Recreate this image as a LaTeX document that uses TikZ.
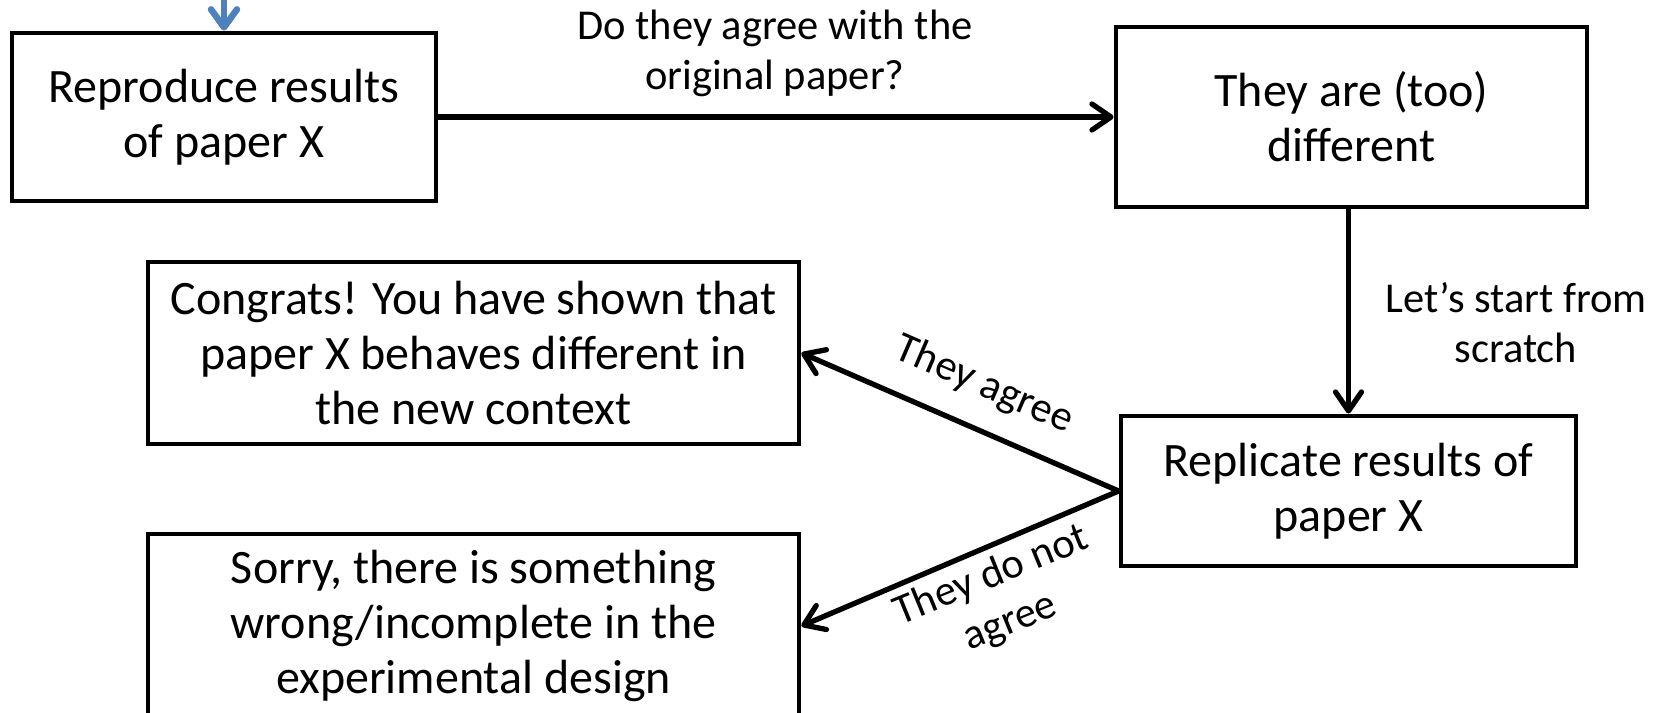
\documentclass[tikz,border=0pt]{standalone}
\usepackage{fontspec}
\setmainfont{Carlito}
\usetikzlibrary{arrows.meta}
\definecolor{flowblue}{HTML}{4F81BD}
\begin{document}
\begin{tikzpicture}[x=1pt,y=-1pt,
  box/.style={draw, line width=4.8pt, rectangle, align=center, inner sep=0pt,
    font=\fontsize{48}{55}\selectfont},
  lbl/.style={align=center, inner sep=0pt, font=\fontsize{42.5}{50}\selectfont},
  link/.style={line width=5.3pt, line cap=round,
    -{Straight Barb[length=19pt,width=26pt,line width=5.3pt,round]}},
  feed/.style={line width=6.5pt, draw=flowblue,
    -{Straight Barb[length=18pt,width=26pt,line width=6.5pt,round]}}]
\useasboundingbox (0,0) rectangle (1662,712);
\clip (0,0) rectangle (1662,712);

% process boxes
\node[box, minimum width=424pt, minimum height=168pt] (repro) at (224,117)
  {Reproduce results\\of paper X};
\node[box, minimum width=471pt, minimum height=180pt] (diff) at (1351.5,117)
  {They are (too)\\different};
\node[box, minimum width=651pt, minimum height=182pt] (congrats) at (473.5,353)
  {Congrats! You have shown that\\paper X behaves different in\\the new context};
\node[box, minimum width=455pt, minimum height=150pt] (repl) at (1348.5,491)
  {Replicate results of\\paper X};
\node[box, minimum width=651pt, minimum height=184pt] (sorry) at (473.5,626)
  {Sorry, there is something\\wrong/incomplete in the\\experimental design};

% incoming arrow from above
\coordinate (entry) at (224,-4);
\draw[feed] (entry) -- (repro.north);

% connectors
\draw[link] (repro.east) -- (diff.west);
\draw[link] (repl.north |- diff.south) -- (repl.north);
\draw[link] (repl.west) -- (congrats.east);
\draw[link] (repl.west) -- (sorry.east);

% connector labels
\node[lbl] (qagree) at (775,53) {Do they agree with the\\original paper?};
\node[lbl] (scratch) at (1516,323) {Let’s start from\\scratch};
\node[lbl, rotate=-23.3] (yes) at (984,385) {They agree};
\node[lbl, rotate=22.2] (no) at (1001,599) {They do not\\agree};
\end{tikzpicture}
\end{document}
